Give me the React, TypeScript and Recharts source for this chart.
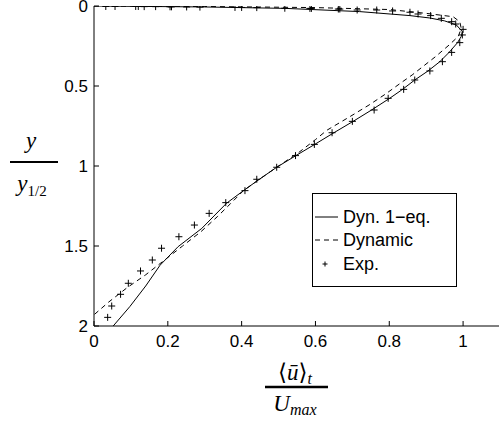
import React from "react";
import {
  ScatterChart,
  Scatter,
  XAxis,
  YAxis,
  Legend,
} from "recharts";

// Dyn. 1-eq. model (solid line), traced from the wall (y=0) outwards
const dyn1eqU = [0, 0.1, 0.3, 0.52, 0.72, 0.856, 0.91, 0.95, 0.982, 0.998, 0.995, 0.985, 0.962, 0.937, 0.905, 0.869, 0.836, 0.801, 0.752, 0.702, 0.65, 0.598, 0.547, 0.495, 0.448, 0.405, 0.359, 0.292, 0.228, 0.179, 0.14, 0.097, 0.052];
const dyn1eqY = [0, 0.002, 0.006, 0.015, 0.035, 0.06, 0.075, 0.093, 0.119, 0.16, 0.19, 0.229, 0.29, 0.348, 0.406, 0.4625, 0.521, 0.577, 0.65, 0.721, 0.792, 0.865, 0.935, 1.008, 1.083, 1.154, 1.233, 1.39, 1.504, 1.62, 1.75, 1.879, 2.0];

// Dynamic model (dashed line)
const dynamicU = [0, 0.3, 0.6, 0.8, 0.9, 0.973, 0.991, 0.995, 0.987, 0.962, 0.925, 0.862, 0.83, 0.79, 0.745, 0.693, 0.632, 0.6, 0.555, 0.495, 0.448, 0.405, 0.37, 0.335, 0.29, 0.24, 0.19, 0.14, 0.09, 0.04, 0];
const dynamicY = [0, 0.003, 0.01, 0.022, 0.046, 0.067, 0.098, 0.14, 0.19, 0.244, 0.317, 0.431, 0.483, 0.55, 0.619, 0.692, 0.775, 0.835, 0.915, 1.008, 1.083, 1.154, 1.235, 1.315, 1.41, 1.5, 1.59, 1.68, 1.76, 1.85, 1.93];

// Experiment (crosses)
const expU = [0.032, 0.057, 0.113, 0.12, 0.136, 0.167, 0.206, 0.21, 0.251, 0.287, 0.382, 0.4, 0.441, 0.517, 0.585, 0.589, 0.662, 0.666, 0.713, 0.766, 0.809, 0.856, 0.878, 0.912, 0.941, 0.969, 0.98, 1.0, 0.998, 0.991, 0.969, 0.944, 0.91, 0.869, 0.839, 0.797, 0.759, 0.7, 0.645, 0.597, 0.546, 0.495, 0.441, 0.409, 0.357, 0.312, 0.272, 0.23, 0.183, 0.158, 0.126, 0.093, 0.072, 0.048, 0.037];
const expY = [0.003, 0.003, 0.003, 0.003, 0.004, 0.004, 0.005, 0.005, 0.006, 0.007, 0.009, 0.009, 0.01, 0.014, 0.015, 0.015, 0.019, 0.019, 0.025, 0.025, 0.031, 0.039, 0.05, 0.06, 0.077, 0.098, 0.1125, 0.146, 0.181, 0.229, 0.29, 0.348, 0.406, 0.4625, 0.521, 0.577, 0.65, 0.721, 0.792, 0.865, 0.935, 1.008, 1.083, 1.154, 1.229, 1.296, 1.369, 1.442, 1.514, 1.5875, 1.656, 1.733, 1.802, 1.875, 1.946];

const xTicks = [0, 0.2, 0.4, 0.6, 0.8, 1];
const yTicks = [0, 0.5, 1, 1.5, 2];
const legendNames = ["Dyn. 1\u2212eq.", "Dynamic", "Exp."];

const zip = (u: number[], y: number[]) => u.map((v, i) => ({ x: v, y: y[i] }));

const SANS = "'Liberation Sans', Arial, Helvetica, sans-serif";
const SERIF = "'Liberation Serif', 'DejaVu Serif', 'Times New Roman', serif";

const NoDot = () => <g />;

const Cross = (props: any) => {
  const { cx, cy } = props;
  if (cx == null || cy == null) return <g />;
  return (
    <path
      d={`M${cx - 3.5},${cy}H${cx + 3.5}M${cx},${cy - 3.5}V${cy + 3.5}`}
      stroke="#000"
      strokeWidth={1}
      fill="none"
    />
  );
};

const XTitle = () => (
  <g>
    <text x={295} y={380} textAnchor="middle" fontFamily={SERIF} fontSize={23} fill="#000">
      <tspan>{"\u27E8"}</tspan>
      <tspan fontStyle="italic">{"\u016B"}</tspan>
      <tspan>{"\u27E9"}</tspan>
      <tspan fontStyle="italic" fontSize={16} dy={4}>t</tspan>
    </text>
    <line x1={265} x2={328} y1={387} y2={387} stroke="#000" strokeWidth={2.5} />
    <text x={295} y={411} textAnchor="middle" fontFamily={SERIF} fontSize={23} fill="#000">
      <tspan fontStyle="italic">U</tspan>
      <tspan fontStyle="italic" fontSize={16} dy={4}>max</tspan>
    </text>
  </g>
);

const YTitle = () => (
  <g>
    <text x={31} y={148} textAnchor="middle" fontFamily={SERIF} fontSize={23} fontStyle="italic" fill="#000">
      y
    </text>
    <line x1={10} x2={58} y1={162} y2={162} stroke="#000" strokeWidth={2} />
    <text x={32} y={191} textAnchor="middle" fontFamily={SERIF} fontSize={23} fill="#000">
      <tspan fontStyle="italic">y</tspan>
      <tspan fontSize={15} dy={5}>1/2</tspan>
    </text>
  </g>
);

const LegendBox = () => (
  <div
    style={{
      boxSizing: "border-box",
      width: 145,
      height: 94,
      border: "1px solid #000",
      background: "#fff",
      paddingTop: 11,
      fontFamily: SANS,
      fontSize: 18,
      color: "#000",
    }}
  >
    {legendNames.map((name, i) => (
      <div key={name} style={{ display: "flex", alignItems: "center", height: 23.5 }}>
        <svg width={24} height={10} style={{ marginLeft: 2, marginRight: 4 }}>
          {i === 0 && <line x1={0} x2={23} y1={5} y2={5} stroke="#000" strokeWidth={1} />}
          {i === 1 && <line x1={0} x2={23} y1={5} y2={5} stroke="#000" strokeWidth={1} strokeDasharray="5 4" />}
          {i === 2 && <path d="M7.5,5H12.5M10,2.5V7.5" stroke="#000" strokeWidth={1} />}
        </svg>
        <span style={{ lineHeight: "18px" }}>{name}</span>
      </div>
    ))}
  </div>
);

export default function App() {
  const tickStyle = { fill: "#000", fontSize: 17, fontFamily: SANS };
  return (
    <div style={{ position: "absolute", left: 0, top: 0, width: 499, height: 423, overflow: "hidden", background: "#fff" }}>
      <ScatterChart width={502} height={423} margin={{ top: 6, right: 2, left: 64, bottom: 67 }}>
        <XAxis
          type="number"
          dataKey="x"
          domain={[0, 1.1]}
          ticks={xTicks}
          interval={0}
          height={30}
          tickSize={-5}
          tickMargin={14}
          axisLine={{ stroke: "#000" }}
          tickLine={{ stroke: "#000" }}
          tick={tickStyle}
          label={{ content: () => <XTitle /> }}
          allowDataOverflow
        />
        <YAxis
          type="number"
          dataKey="y"
          domain={[0, 2]}
          ticks={yTicks}
          interval={0}
          reversed
          width={30}
          tickSize={-5}
          tickMargin={11}
          axisLine={{ stroke: "#000" }}
          tickLine={{ stroke: "#000" }}
          tick={tickStyle}
          label={{ content: () => <YTitle /> }}
          allowDataOverflow
        />
        <XAxis
          xAxisId="top"
          orientation="top"
          type="number"
          domain={[0, 1.1]}
          ticks={xTicks}
          interval={0}
          mirror
          height={0}
          tickSize={5}
          tick={false}
          axisLine={{ stroke: "#000" }}
          tickLine={{ stroke: "#000" }}
        />
        <YAxis
          yAxisId="right"
          orientation="right"
          type="number"
          domain={[0, 2]}
          ticks={yTicks}
          interval={0}
          reversed
          mirror
          width={0}
          tickSize={5}
          tick={false}
          axisLine={{ stroke: "#000" }}
          tickLine={{ stroke: "#000" }}
        />
        <Legend
          layout="vertical"
          align="center"
          verticalAlign="middle"
          wrapperStyle={{ left: 312, top: 193, width: 145 }}
          content={() => <LegendBox />}
        />
        <Scatter
          name={legendNames[0]}
          data={zip(dyn1eqU, dyn1eqY)}
          line={{ stroke: "#000", strokeWidth: 1 }}
          shape={NoDot}
          isAnimationActive={false}
        />
        <Scatter
          name={legendNames[1]}
          data={zip(dynamicU, dynamicY)}
          line={{ stroke: "#000", strokeWidth: 1, strokeDasharray: "5 4" }}
          shape={NoDot}
          isAnimationActive={false}
        />
        <Scatter
          name={legendNames[2]}
          data={zip(expU, expY)}
          shape={Cross}
          isAnimationActive={false}
        />
      </ScatterChart>
    </div>
  );
}
